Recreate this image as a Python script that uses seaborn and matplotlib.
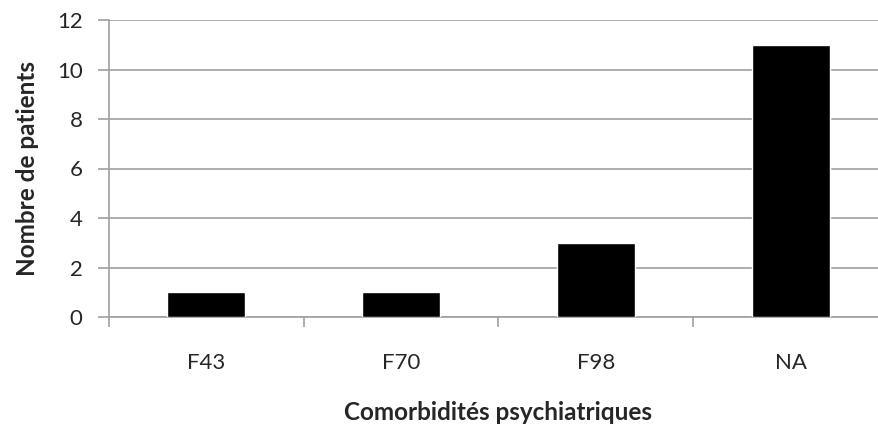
import matplotlib
matplotlib.use("Agg")
import matplotlib.pyplot as plt
import seaborn as sns
import pandas as pd

categories = ["F43", "F70", "F98", "NA"]
values = [1, 1, 3, 11]
yticks = [0, 2, 4, 6, 8, 10, 12]

df = pd.DataFrame({"cat": categories, "val": values})

sns.set_style("white")
plt.rcParams['font.family'] = ['Lato', 'DejaVu Sans']

fig = plt.figure(figsize=(8.79, 4.26), dpi=100)
ax = fig.add_axes([109/879, 1 - 317/426, (888 - 109)/879, (317 - 20)/426])

sns.barplot(data=df, x="cat", y="val", color="black", width=0.4,
            saturation=1, ax=ax, zorder=3)

ax.set_ylim(0, 12)
ax.set_yticks(yticks)
ax.set_xlim(-0.5, 3.5)
ax.yaxis.grid(True, color="#a0a0a0", linewidth=1.2, zorder=0)
ax.set_axisbelow(True)

# x ticks between categories
ax.set_xticks([-0.5, 0.5, 1.5, 2.5, 3.5], minor=False)
ax.set_xticklabels([])
ax.set_xticks(range(len(categories)), minor=True)
ax.set_xticklabels(categories, minor=True)
ax.tick_params(axis="x", which="major", direction="out", length=7, color="#a0a0a0", width=1.2, bottom=True)
ax.tick_params(axis="x", which="minor", length=0, pad=26, labelsize=16)
ax.tick_params(axis="y", direction="out", length=8, color="#a0a0a0", width=1.2, left=True, labelsize=16, pad=11)

for s in ["top", "right"]:
    ax.spines[s].set_visible(False)
for s in ["left", "bottom"]:
    ax.spines[s].set_color("#a0a0a0")
    ax.spines[s].set_linewidth(1.2)

ax.set_xlabel("Comorbidités psychiatriques", fontweight="bold", fontsize=17.5, labelpad=20)
ax.set_ylabel("Nombre de patients", fontweight="bold", fontsize=17.5, labelpad=13)

fig.savefig("out.png", dpi=100)
